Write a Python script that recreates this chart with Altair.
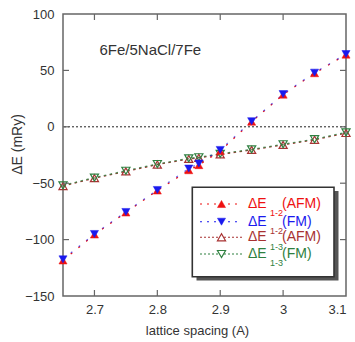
import altair as alt
import pandas as pd

# ---- data ----
spacing = [2.65, 2.7, 2.75, 2.8, 2.85, 2.866, 2.9, 2.95, 3.0, 3.05, 3.1]
de12_afm = [-118.5, -95.5, -76.0, -56.5, -38.5, -34.0, -21.5, 4.5, 28.5, 47.5, 64.0]
de12_fm = [-117.5, -95.0, -75.5, -56.0, -37.0, -32.5, -20.5, 5.0, 29.0, 48.0, 64.5]
de13_afm = [-52.5, -45.5, -39.5, -33.5, -28.5, -27.5, -24.5, -20.5, -16.0, -11.5, -5.5]
de13_fm = [-52.0, -45.0, -39.0, -33.0, -28.0, -27.0, -24.0, -20.0, -15.5, -11.0, -5.0]

x_ticks = [2.7, 2.8, 2.9, 3.0, 3.1]
y_ticks = [-150, -100, -50, 0, 50, 100]
x_inner_ticks = [2.7, 2.8, 2.9, 3.0]
y_inner_ticks = [-100, -50, 0, 50]

series_names = ["AFM", "FM", "AFM", "FM"]
series_subs = ["1-2", "1-2", "1-3", "1-3"]
annotation = "6Fe/5NaCl/7Fe"

RED = "#ee1111"
BLUE = "#1a1aee"
DKRED = "#a83232"
GREEN = "#2f8040"
FONT = "Liberation Sans"

W, H = 283, 282

xs = alt.Scale(domain=[2.65, 3.1], nice=False, zero=False)
ys = alt.Scale(domain=[-150, 100], nice=False, zero=False)

xaxis = alt.Axis(values=x_ticks, format="~g", ticks=False, domain=False, grid=False,
                 labelFont=FONT, labelFontSize=13, labelColor="#333", labelPadding=7,
                 title="lattice spacing (A)", titleFont=FONT, titleFontSize=13,
                 titleFontWeight="normal", titleColor="#333", titleX=134, titleY=38,
                 titleBaseline="alphabetic", titleAlign="center")
yaxis = alt.Axis(values=y_ticks, ticks=False, domain=False, grid=False,
                 labelFont=FONT, labelFontSize=13, labelColor="#333", labelPadding=9,
                 title="ΔE (mRy)", titleFont=FONT, titleFontSize=14,
                 titleFontWeight="normal", titleColor="#333", titleX=-46, titleY=130,
                 titleAngle=-90, titleBaseline="middle", titleAlign="center")


def frame(col):
    return pd.DataFrame({"x": spacing, "y": col})


def line(col, color, dash, opacity=1.0):
    return alt.Chart(frame(col)).mark_line(color=color, strokeDash=dash, strokeWidth=1.3,
                                           opacity=opacity).encode(
        x=alt.X("x:Q", scale=xs, axis=xaxis), y=alt.Y("y:Q", scale=ys, axis=yaxis))


def pts(col, color, shape, filled):
    kw = dict(shape=shape, size=66, opacity=1, filled=filled)
    if filled:
        kw.update(fill=color, stroke=color, strokeWidth=0.5)
    else:
        kw.update(stroke=color, strokeWidth=1.2, fill="transparent")
    return alt.Chart(frame(col)).mark_point(**kw).encode(
        x=alt.X("x:Q", scale=xs), y=alt.Y("y:Q", scale=ys))


layers = []

zero = alt.Chart(pd.DataFrame({"y": [0]})).mark_rule(color="#222", strokeDash=[2, 2],
                                                      strokeWidth=1).encode(
    y=alt.Y("y:Q", scale=ys))
layers.append(zero)

layers += [
    line(de13_afm, DKRED, [2.5, 3.5]),
    line(de13_fm, GREEN, [2.5, 3.5], 0.8),
    line(de12_afm, RED, [2, 8]),
    line(de12_fm, BLUE, [2, 8], 0.6),
    pts(de13_afm, DKRED, "triangle-up", False),
    pts(de13_fm, GREEN, "triangle-down", False),
    pts(de12_afm, RED, "triangle-up", True),
    pts(de12_fm, BLUE, "triangle-down", True),
]

# inward ticks
xt = pd.DataFrame({"v": x_inner_ticks})
yt = pd.DataFrame({"v": y_inner_ticks})
tick_kw = dict(color="#666", thickness=1.2, size=6, opacity=1)
layers.append(alt.Chart(xt).mark_tick(orient="vertical", **tick_kw).encode(
    x=alt.X("v:Q", scale=xs), y=alt.value(H - 3)))
layers.append(alt.Chart(xt).mark_tick(orient="vertical", **tick_kw).encode(
    x=alt.X("v:Q", scale=xs), y=alt.value(3)))
layers.append(alt.Chart(yt).mark_tick(orient="horizontal", **tick_kw).encode(
    y=alt.Y("v:Q", scale=ys), x=alt.value(3)))
layers.append(alt.Chart(yt).mark_tick(orient="horizontal", **tick_kw).encode(
    y=alt.Y("v:Q", scale=ys), x=alt.value(W - 3)))

# annotation
ann = pd.DataFrame({"x": [2.708], "y": [68.5], "t": [annotation]})
layers.append(alt.Chart(ann).mark_text(align="left", baseline="middle", font=FONT,
                                       fontSize=15, color="#333").encode(
    x=alt.X("x:Q", scale=xs), y=alt.Y("y:Q", scale=ys), text="t:N"))

# legend (decoration, pixel space)
one = pd.DataFrame({"a": [0]})
layers.append(alt.Chart(one).mark_rect(fill="#555").encode(
    x=alt.value(133.5), x2=alt.value(275.5), y=alt.value(177), y2=alt.value(266.5)))
layers.append(alt.Chart(one).mark_rect(fill="white", stroke="#333", strokeWidth=1.6).encode(
    x=alt.value(129.3), x2=alt.value(271), y=alt.value(173.3), y2=alt.value(262.7)))

row_y = [190, 207.7, 223.3, 240]
row_col = [RED, BLUE, DKRED, GREEN]
sub_col = [RED, DKRED, GREEN, GREEN]
row_shape = ["triangle-up", "triangle-down", "triangle-up", "triangle-down"]
row_fill = [True, True, False, False]
row_dash = [[2, 5], [2, 5], [2, 2], [2, 2]]
for i in range(4):
    y = row_y[i]
    layers.append(alt.Chart(one).mark_rule(color=row_col[i], strokeDash=row_dash[i],
                                           strokeWidth=1.1).encode(
        x=alt.value(137), x2=alt.value(179), y=alt.value(y)))
    kw = dict(shape=row_shape[i], size=66, opacity=1, filled=row_fill[i])
    if row_fill[i]:
        kw.update(fill=row_col[i], stroke=row_col[i], strokeWidth=0.5)
    else:
        kw.update(fill="white", stroke=row_col[i], strokeWidth=1.2)
    layers.append(alt.Chart(one).mark_point(**kw).encode(
        x=alt.value(158.5), y=alt.value(y)))
    lab = pd.DataFrame({"t": ["ΔE"], "s": [series_subs[i]], "p": ["(" + series_names[i] + ")"]})
    layers.append(alt.Chart(lab).mark_text(align="left", baseline="middle", font=FONT,
                                           fontSize=14, color=row_col[i]).encode(
        x=alt.value(185), y=alt.value(y), text="t:N"))
    layers.append(alt.Chart(lab).mark_text(align="left", baseline="middle", font=FONT,
                                           fontSize=9, color=sub_col[i]).encode(
        x=alt.value(207), y=alt.value(y + 9.3), text="s:N"))
    layers.append(alt.Chart(lab).mark_text(align="left", baseline="middle", font=FONT,
                                           fontSize=14, color=row_col[i]).encode(
        x=alt.value(219), y=alt.value(y), text="p:N"))

chart = alt.layer(*layers).properties(
    width=W, height=H,
    autosize=alt.AutoSizeParams(type="none"),
    padding={"left": 63, "top": 14, "right": 9, "bottom": 46},
    background="white",
).configure_view(stroke="#666", strokeWidth=1.5)

chart.save("out.html", embed_options={"renderer": "svg", "actions": False})
